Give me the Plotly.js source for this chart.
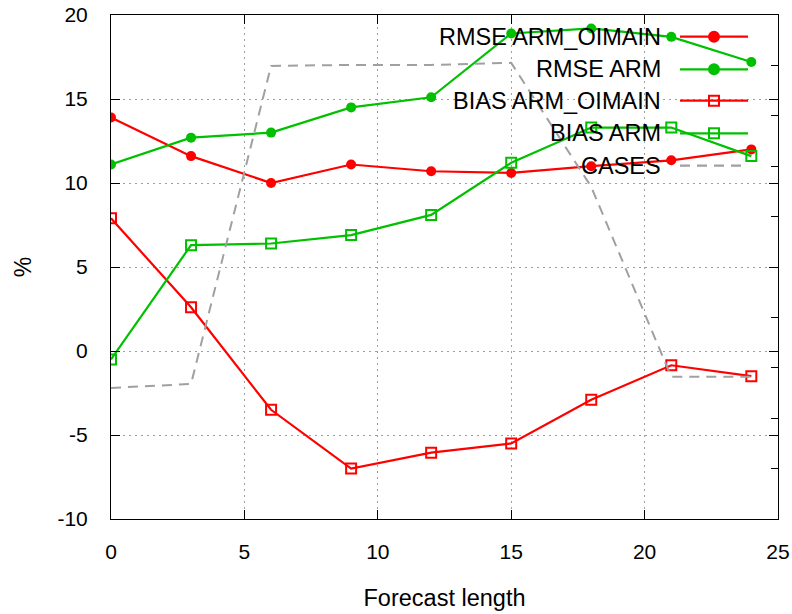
<!DOCTYPE html>
<html>
<head>
<meta charset="utf-8">
<script src="https://cdn.plot.ly/plotly-3.0.1.min.js"></script>
<style>html,body{margin:0;padding:0;background:#fff;}#chart{width:792px;height:614px;}</style>
</head>
<body>
<div id="chart"></div>
<script>
// ---- data ----
const forecastLength = [0, 3, 6, 9, 12, 15, 18, 21, 24];
const rmseArmOimain = [13.9, 11.6, 10.0, 11.1, 10.7, 10.6, 11.0, 11.35, 12.0];
const rmseArm       = [11.1, 12.7, 13.0, 14.5, 15.1, 18.9, 19.2, 18.7, 17.2];
const biasArmOimain = [7.9, 2.6, -3.5, -7.0, -6.05, -5.5, -2.9, -0.85, -1.5];
const biasArm       = [-0.5, 6.3, 6.4, 6.9, 8.1, 11.2, 13.3, 13.3, 11.6];
const cases         = [26.0, 26.8, 89.9, 90.1, 90.1, 90.5, 65.9, 28.2, 28.2];

const seriesNames = ["RMSE ARM_OIMAIN", "RMSE ARM", "BIAS ARM_OIMAIN", "BIAS ARM", "CASES"];
const xTickVals = [0, 5, 10, 15, 20, 25];
const yTickVals = [-10, -5, 0, 5, 10, 15, 20];

const RED = "#ff0000", GREEN = "#00c000", GRAY = "#a0a0a0";
const FONT = "Liberation Sans, Arial, sans-serif";

const lineStyles = [
  {color: RED, symbol: "circle", filled: true},
  {color: GREEN, symbol: "circle", filled: true},
  {color: RED, symbol: "square-open", filled: false},
  {color: GREEN, symbol: "square-open", filled: false},
  {color: GRAY, dash: true}
];
const seriesValues = [rmseArmOimain, rmseArm, biasArmOimain, biasArm, cases];

const traces = [];
traces.push({
  x: forecastLength, y: cases, yaxis: "y2", type: "scatter", mode: "lines",
  name: seriesNames[4], showlegend: false,
  line: {color: GRAY, width: 2, dash: "10px,7px"}, hoverinfo: "skip"
});
for (let i = 0; i < 4; i++) {
  const s = lineStyles[i];
  traces.push({
    x: forecastLength, y: seriesValues[i], type: "scatter", mode: "lines+markers",
    name: seriesNames[i], showlegend: false,
    line: {color: s.color, width: 2.2},
    marker: s.filled ? {symbol: "circle", size: 10, color: s.color}
                     : {symbol: "square-open", size: 10, color: s.color, line: {color: s.color, width: 2}}
  });
}

// gnuplot-style key: text right-aligned, sample on the right
const keyRowsPx = [36.7, 69.3, 100.7, 133.3, 165.7];
const plotTop = 15, plotBottom = 519, plotLeft = 111, plotRight = 778;
const ph = plotBottom - plotTop, pw = plotRight - plotLeft;
const py = p => (plotBottom - p) / ph;
const px = p => (p - plotLeft) / pw;
const annotations = [], shapes = [];
seriesNames.forEach((name, i) => {
  const yy = py(keyRowsPx[i]);
  annotations.push({
    xref: "paper", yref: "paper", x: px(663), y: yy, xanchor: "right", yanchor: "middle",
    text: name, showarrow: false, font: {family: FONT, size: 23.5, color: "#000"}
  });
  const s = lineStyles[i];
  shapes.push({
    type: "line", xref: "paper", yref: "paper", x0: px(680), x1: px(748), y0: yy, y1: yy,
    line: {color: s.color, width: 2.2, dash: s.dash ? "10px,7px" : "solid"}
  });
  if (!s.dash) {
    shapes.push({
      type: s.filled ? "circle" : "rect", xref: "paper", yref: "paper",
      xsizemode: "pixel", ysizemode: "pixel", xanchor: px(714), yanchor: yy,
      x0: -5, x1: 5, y0: -5, y1: 5,
      fillcolor: s.filled ? s.color : "rgba(0,0,0,0)",
      line: {color: s.color, width: 2}
    });
  }
});

const layout = {
  width: 792, height: 614,
  margin: {l: plotLeft, r: 792 - plotRight, t: plotTop, b: 614 - plotBottom, pad: 0},
  paper_bgcolor: "#fff", plot_bgcolor: "#fff",
  font: {family: FONT, size: 20, color: "#000"},
  showlegend: false,
  xaxis: {
    range: [0, 25], tickvals: xTickVals, ticktext: xTickVals.map(String),
    ticks: "inside", ticklen: 9, tickcolor: "#000", tickwidth: 1,
    showline: true, linecolor: "#000", linewidth: 1, mirror: "ticks",
    showgrid: true, gridcolor: GRAY, gridwidth: 1, griddash: "2px,4px",
    zeroline: false, ticklabelstandoff: 14,
    tickfont: {family: FONT, size: 21},
    title: {text: "Forecast length", font: {family: FONT, size: 23.5}, standoff: 27}
  },
  yaxis: {
    range: [-10, 20], tickvals: yTickVals, ticktext: yTickVals.map(String),
    ticks: "inside", ticklen: 9, tickcolor: "#000", tickwidth: 1,
    showline: true, linecolor: "#000", linewidth: 1, mirror: "ticks",
    showgrid: true, gridcolor: GRAY, gridwidth: 1, griddash: "2px,4px",
    zeroline: false, ticklabelstandoff: 18,
    tickfont: {family: FONT, size: 21},
    title: {text: "%", font: {family: FONT, size: 23}, standoff: 19}
  },
  yaxis2: {
    overlaying: "y", side: "right", range: [0, 100], dtick: 10,
    ticks: "inside", ticklen: 7, tickcolor: "#000",
    showticklabels: false, showgrid: false, zeroline: false, showline: false
  },
  annotations: annotations,
  shapes: shapes
};

Plotly.newPlot("chart", traces, layout, {staticPlot: true, displayModeBar: false});
</script>
</body>
</html>
